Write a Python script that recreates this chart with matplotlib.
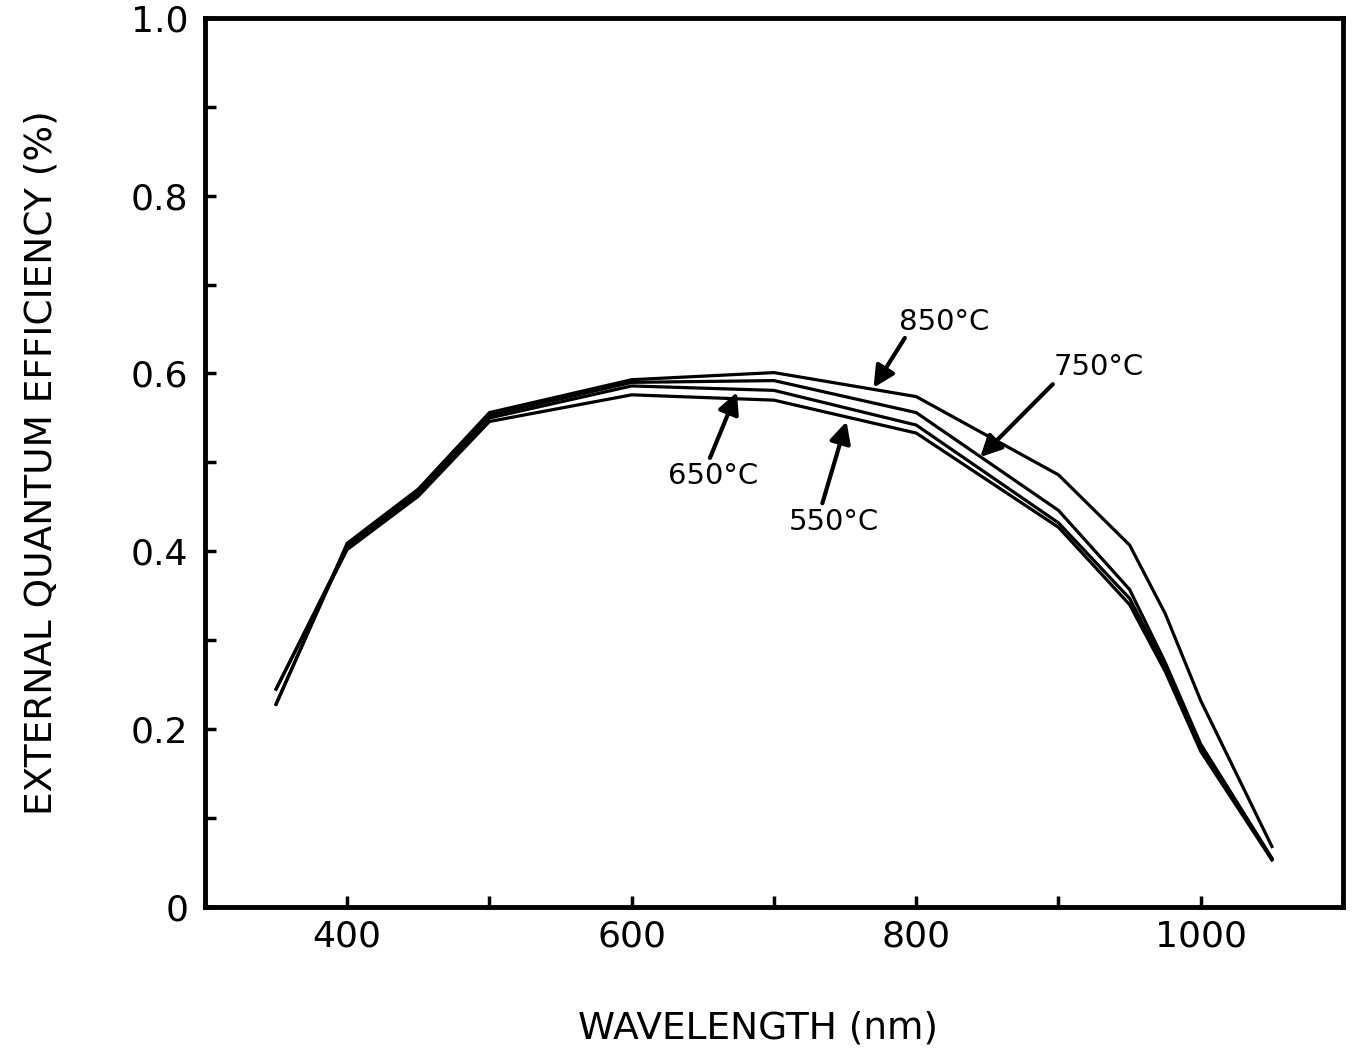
import matplotlib
matplotlib.use("Agg")
import matplotlib.pyplot as plt
from matplotlib.ticker import MultipleLocator, FixedLocator

wavelength = [350, 400, 450, 500, 600, 700, 800, 900, 950, 975, 1000, 1050]
qe_850 = [0.228, 0.409, 0.470, 0.556, 0.593, 0.601, 0.574, 0.486, 0.407, 0.330, 0.232, 0.068]
qe_750 = [0.228, 0.407, 0.468, 0.553, 0.590, 0.592, 0.556, 0.446, 0.357, 0.275, 0.183, 0.055]
qe_650 = [0.245, 0.405, 0.465, 0.550, 0.586, 0.581, 0.542, 0.432, 0.347, 0.270, 0.179, 0.053]
qe_550 = [0.245, 0.402, 0.462, 0.546, 0.576, 0.570, 0.533, 0.427, 0.340, 0.265, 0.175, 0.053]

labels = ["850°C", "750°C", "650°C", "550°C"]
label_text_pos = [(820, 0.658), (928, 0.607), (657, 0.485), (742, 0.433)]
label_tail = [(792, 0.640), (896, 0.588), (655, 0.505), (734, 0.454)]
label_tip = [(770, 0.584), (845, 0.506), (674, 0.579), (751, 0.546)]

x_ticks = [400, 600, 800, 1000]
y_ticks = [0, 0.2, 0.4, 0.6, 0.8, 1.0]
y_ticklabels = ["0", "0.2", "0.4", "0.6", "0.8", "1.0"]

plt.rcParams['font.family'] = ['DejaVu Sans']
fig = plt.figure(figsize=(13.57, 10.49), dpi=100)
ax = fig.add_axes([0.151, 0.1354, 0.8387, 0.8476])

for series in (qe_850, qe_750, qe_650, qe_550):
    ax.plot(wavelength, series, color='black', lw=2.3, solid_joinstyle='miter')

ax.set_xlim(300, 1100)
ax.set_ylim(0, 1.0)

ax.xaxis.set_major_locator(FixedLocator(x_ticks))
ax.xaxis.set_minor_locator(MultipleLocator(100))
ax.set_xticklabels([str(t) for t in x_ticks])
ax.yaxis.set_major_locator(FixedLocator(y_ticks))
ax.yaxis.set_minor_locator(MultipleLocator(0.1))
ax.set_yticklabels(y_ticklabels)

ax.tick_params(which='both', direction='in', length=8, width=2.5,
               top=False, right=False, labelsize=26)
ax.tick_params(axis='x', pad=9)
ax.tick_params(axis='y', pad=12)
for s in ax.spines.values():
    s.set_linewidth(3.5)

ax.set_xlabel("WAVELENGTH (nm)", fontsize=27)
ax.set_ylabel("EXTERNAL QUANTUM EFFICIENCY (%)", fontsize=27)
ax.xaxis.set_label_coords(0.486, -0.116)
ax.yaxis.set_label_coords(-0.128, 0.5)

for lab, tp, tail, tip in zip(labels, label_text_pos, label_tail, label_tip):
    ax.text(tp[0], tp[1], lab, fontsize=21, ha='center', va='center')
    ax.annotate("", xy=tip, xytext=tail,
                arrowprops=dict(arrowstyle='-|>', color='black', lw=3,
                                mutation_scale=32, shrinkA=0, shrinkB=0))

fig.savefig("out.png", dpi=100, facecolor='white')
